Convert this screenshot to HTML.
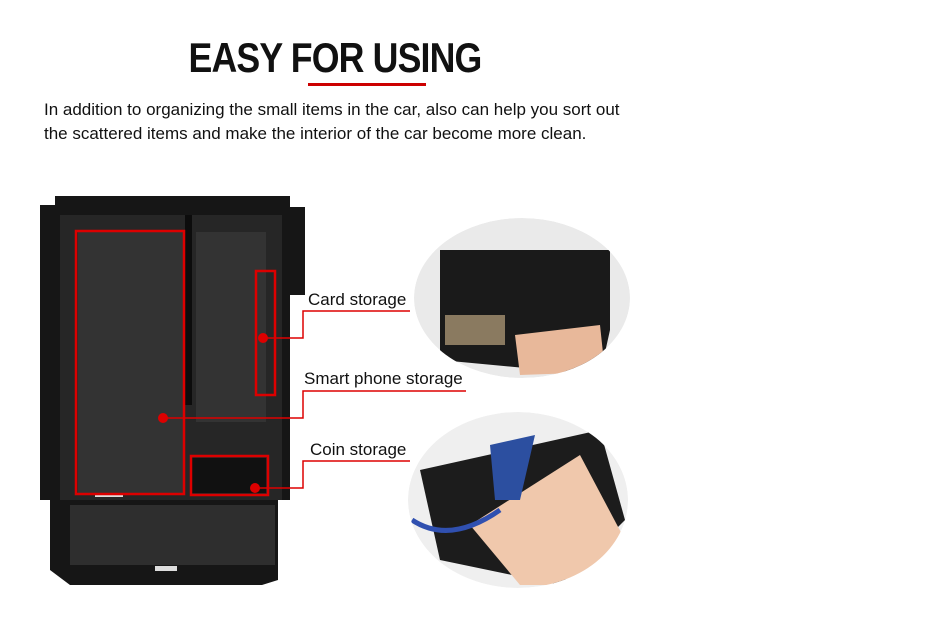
<!DOCTYPE html>
<html><head><meta charset="utf-8"><style>
html,body{margin:0;padding:0;background:#fff;width:950px;height:620px;overflow:hidden;font-family:"Liberation Sans",sans-serif}
.t{position:absolute;left:0;width:670px;top:34px;text-align:center;font-weight:bold;font-size:42px;letter-spacing:-1px;color:#111;transform:scaleX(0.85);transform-origin:335px 0}
.p{position:absolute;left:44px;font-size:17px;color:#111}
.l{position:absolute;font-size:17px;color:#111}
</style></head><body>
<div class="t">EASY FOR USING</div>
<div style="position:absolute;left:308px;top:83px;width:118px;height:3px;background:#c00"></div>
<div class="p" style="top:100px">In addition to organizing the small items in the car, also can help you sort out</div>
<div class="p" style="top:124px">the scattered items and make the interior of the car become more clean.</div>
<svg width="950" height="620" style="position:absolute;left:0;top:0">
<defs>
<clipPath id="c1"><ellipse cx="522" cy="298" rx="108" ry="80"/></clipPath>
<clipPath id="c2"><ellipse cx="518" cy="500" rx="110" ry="88"/></clipPath>
</defs>
<!-- tray -->
<path d="M40 205 L55 205 L55 196 L290 196 L290 207 L305 207 L305 295 L290 295 L290 500 L278 500 L278 580 L262 585 L70 585 L50 570 L50 500 L40 500 Z" fill="#161616"/>
<rect x="60" y="215" width="222" height="285" fill="#262626"/>
<rect x="78" y="232" width="105" height="262" fill="#333"/>
<rect x="196" y="232" width="70" height="190" fill="#333"/>
<rect x="70" y="505" width="205" height="60" fill="#2e2e2e"/>
<rect x="185" y="215" width="7" height="190" fill="#0c0c0c"/>
<rect x="192" y="458" width="74" height="35" fill="#111"/>
<rect x="155" y="566" width="22" height="5" fill="#ddd"/>
<rect x="95" y="493" width="28" height="4" fill="#ddd"/>
<g fill="none" stroke="#d00" stroke-width="2.5">
<rect x="76" y="231" width="108" height="263"/>
<rect x="256" y="271" width="19" height="124"/>
<rect x="191" y="456" width="77" height="39"/>
<polyline points="263,338 303,338 303,311 410,311" stroke-width="1.5"/>
<polyline points="163,418 303,418 303,391 466,391" stroke-width="1.5"/>
<polyline points="255,488 303,488 303,461 410,461" stroke-width="1.5"/>
</g>
<g fill="#d00"><circle cx="163" cy="418" r="5"/><circle cx="263" cy="338" r="5"/><circle cx="255" cy="488" r="5"/></g>
<g clip-path="url(#c1)">
<ellipse cx="522" cy="298" rx="108" ry="80" fill="#eaeaea"/>
<path d="M440 250 L610 250 L610 330 L600 375 L440 360 Z" fill="#1a1a1a"/>
<rect x="445" y="315" width="60" height="30" fill="#8a7a60"/>
<path d="M515 335 L600 325 L605 372 L520 375 Z" fill="#e8b89a"/>
</g>
<g clip-path="url(#c2)">
<ellipse cx="518" cy="500" rx="110" ry="88" fill="#efefef"/>
<path d="M420 470 L600 430 L625 520 L560 585 L440 560 Z" fill="#1c1c1c"/>
<path d="M470 525 L580 455 L625 540 L580 585 L520 585 Z" fill="#f0c8ac"/>
<path d="M490 445 L535 435 L520 500 L495 500 Z" fill="#2c4fa0"/>
<path d="M412 520 Q450 545 500 510" fill="none" stroke="#3050b0" stroke-width="5"/>
</g>
</svg>
<div class="l" style="left:308px;top:290px">Card storage</div>
<div class="l" style="left:304px;top:369px">Smart phone storage</div>
<div class="l" style="left:310px;top:440px">Coin storage</div>
</body></html>
